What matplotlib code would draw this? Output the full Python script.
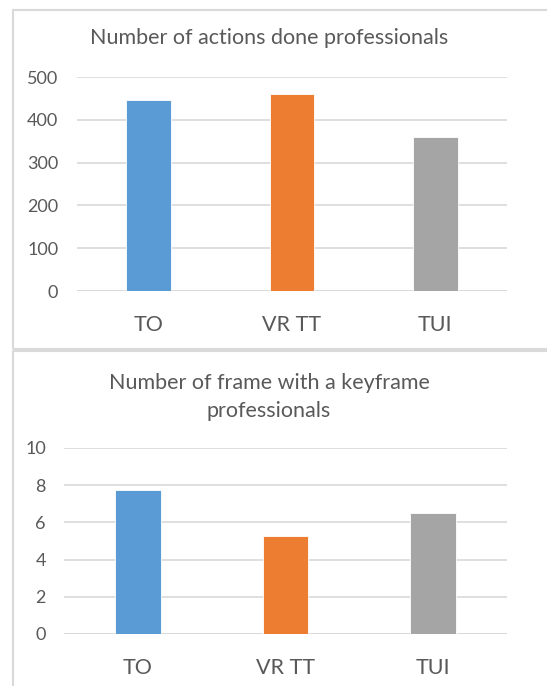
import matplotlib.pyplot as plt
from matplotlib.patches import Rectangle

plt.rcParams['font.family'] = ['Lato', 'DejaVu Sans']

categories = ["TO", "VR TT", "TUI"]
actions = [446, 460, 360]
keyframes = [7.75, 5.25, 6.5]
colors = ["#5B9BD5", "#ED7D31", "#A5A5A5"]
actions_ticks = [0, 100, 200, 300, 400, 500]
keyframe_ticks = [0, 2, 4, 6, 8, 10]

W, H = 547, 686
fig = plt.figure(figsize=(W / 100, H / 100), dpi=100)
txt = "#595959"
grid = "#D9D9D9"


def box(x0, y0, x1, y1):
    # pixel coords (top-left origin) -> figure fraction
    return [x0 / W, 1 - y1 / H, (x1 - x0) / W, (y1 - y0) / H]


# chart borders
for y0, y1 in [(10, 349), (351, 700)]:
    fig.patches.append(Rectangle((13 / W, 1 - y1 / H), (560 - 13) / W, (y1 - y0) / H,
                                 transform=fig.transFigure, fill=False,
                                 edgecolor="#D9D9D9", linewidth=1.5))


def draw(ax, vals, ticks, pad):
    ax.bar(range(len(categories)), vals, width=0.31, color=colors,
           edgecolor="white", linewidth=0.6, zorder=3)
    ax.set_xlim(-0.5, 2.5)
    ax.set_ylim(ticks[0], ticks[-1])
    ax.set_yticks(ticks)
    ax.set_xticks(range(len(categories)))
    ax.set_xticklabels(categories)
    ax.grid(axis="y", color=grid, linewidth=1.2, zorder=0)
    ax.set_axisbelow(True)
    for s in ax.spines.values():
        s.set_visible(False)
    ax.tick_params(axis="y", length=0, pad=pad, labelsize=13, labelcolor=txt)
    ax.tick_params(axis="x", length=0, pad=17, labelsize=15.5, labelcolor=txt)
    ax.set_facecolor("none")


ax1 = fig.add_axes(box(77, 77, 507, 291))
draw(ax1, actions, actions_ticks, 13.5)
ax1.axhline(0, color=grid, linewidth=1.2, zorder=1)

ax2 = fig.add_axes(box(64, 448, 507, 634))
draw(ax2, keyframes, keyframe_ticks, 13)
ax2.axhline(0, color=grid, linewidth=1.2, zorder=1)

fig.text(269 / W, 1 - 38 / H, "Number of actions done professionals",
         ha="center", va="center", fontsize=15.5, color=txt)
fig.text(269 / W, 1 - 397 / H, "Number of frame with a keyframe\nprofessionals",
         ha="center", va="center", fontsize=15.5, color=txt, linespacing=1.55)

fig.savefig("out.png", dpi=100)
